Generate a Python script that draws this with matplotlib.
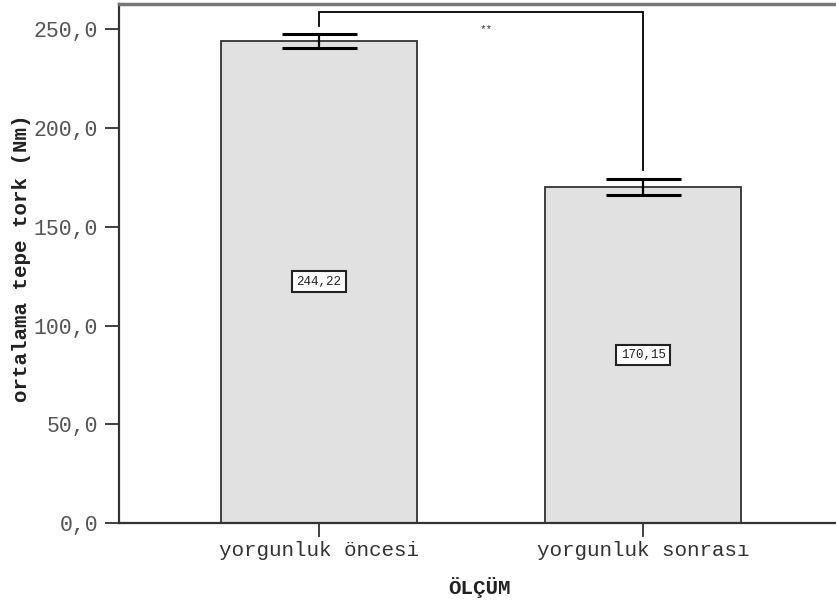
import matplotlib
matplotlib.use("Agg")
import matplotlib.pyplot as plt

categories = ["yorgunluk öncesi", "yorgunluk sonrası"]
means = [244.22, 170.15]
errors = [3.6, 4.0]
value_labels = ["244,22", "170,15"]
y_ticks = [0, 50, 100, 150, 200, 250]
y_tick_labels = ["0,0", "50,0", "100,0", "150,0", "200,0", "250,0"]
sig_label = "**"

mono = ["Liberation Mono", "DejaVu Sans Mono"]

fig = plt.figure(figsize=(8.36, 6.08), dpi=100)
ax = fig.add_axes([119 / 836, 1 - 523 / 608, (840 - 119) / 836, (523 - 4) / 608])

x = [0, 1]
ax.bar(x, means, width=0.603, color="#e1e1e1", edgecolor="#333333", linewidth=1.3, zorder=2)
ax.errorbar(x, means, yerr=errors, fmt="none", ecolor="black", elinewidth=1.6,
            capsize=27, capthick=2.2, zorder=3)

for xi, m, lab in zip(x, means, value_labels):
    ax.text(xi, m / 2, lab, ha="center", va="center", fontsize=9, family=mono,
            color="#222222",
            bbox=dict(boxstyle="square,pad=0.35", facecolor="white", edgecolor="#222222", linewidth=1.5),
            zorder=4)

# significance bracket between the two bars
top = 258.7
left_end = means[0] + errors[0] + 4.0
right_end = means[1] + errors[1] + 4.5
ax.plot([x[0], x[0], x[1], x[1]], [left_end, top, top, right_end], color="black", lw=1.3, zorder=3,
        solid_joinstyle="miter")
ax.text(0.515, 250.0, sig_label, ha="center", va="center", fontsize=8, family=mono, color="#333333")

ax.set_xlim(-0.615, 1.606)
ax.set_ylim(0, 262.8)
ax.set_yticks(y_ticks)
ax.set_yticklabels(y_tick_labels, family=mono, fontsize=15.5, color="#555555")
ax.set_xticks(x)
ax.set_xticklabels(categories, family=mono, fontsize=15, color="#333333")
ax.tick_params(axis="y", length=10, width=1.3, color="#333333", pad=5)
ax.tick_params(axis="x", length=10, width=1.3, color="#333333", pad=3)

for s in ["left", "bottom"]:
    ax.spines[s].set_linewidth(1.6)
    ax.spines[s].set_color("#333333")
ax.spines["top"].set_linewidth(2.5)
ax.spines["top"].set_color("#777777")
ax.spines["right"].set_visible(False)

ax.set_ylabel("ortalama tepe tork (Nm)", family=mono, fontsize=15, fontweight="bold",
              color="#222222", va="center")
ax.yaxis.set_label_coords(-0.135, 0.51)
ax.set_xlabel("ÖLÇÜM", family=mono, fontsize=15, fontweight="bold", color="#222222", va="center")
ax.xaxis.set_label_coords(0.5, -0.125)

fig.savefig("out.png", dpi=100)
